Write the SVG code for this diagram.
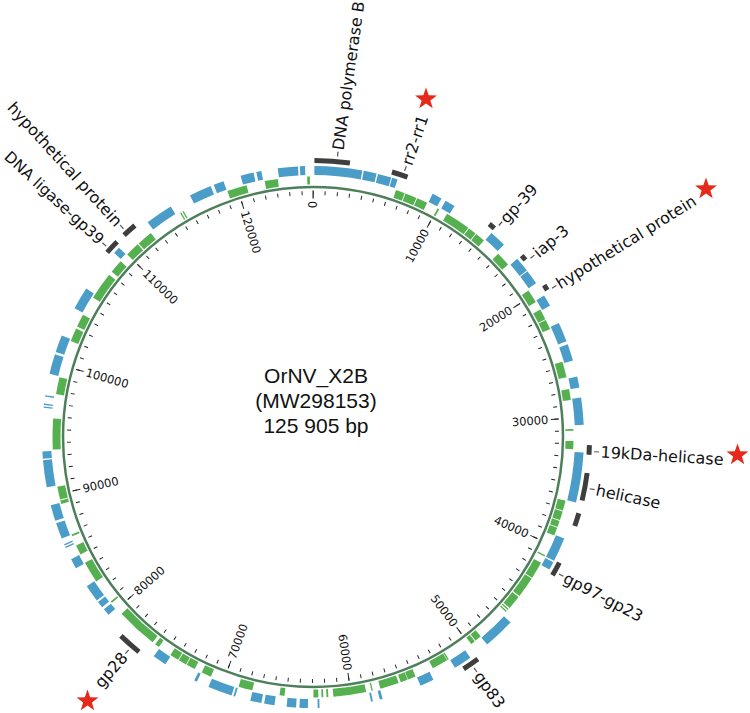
<svg xmlns="http://www.w3.org/2000/svg" width="750" height="713" viewBox="0 0 750 713">
<defs>
<style>
.trk circle{fill:none}
.g{stroke:#55b04f;stroke-width:8}
.b{stroke:#4a9dc9;stroke-width:9}
.m{fill:none;stroke:#3e3e3e;stroke-width:5}
.lbl{font-family:"DejaVu Sans",Verdana,sans-serif;font-size:16px;fill:#111;dominant-baseline:central}
.tl{font-family:"DejaVu Sans",Verdana,sans-serif;font-size:11.5px;fill:#111;dominant-baseline:central}
.e{text-anchor:end}
.ctr{font-family:"Liberation Sans",Arial,sans-serif;font-size:21px;fill:#111;text-anchor:middle}
</style>
<path id="star" d="M0,-11.5 L2.7,-3.72 L10.94,-3.55 L4.38,1.42 L6.76,9.3 L0,4.6 L-6.76,9.3 L-4.38,1.42 L-10.94,-3.55 L-2.7,-3.72Z" fill="#e5291b"/>
</defs>
<rect width="750" height="713" fill="#fff"/>

<g id="backbone">
<circle cx="313" cy="437" r="250" fill="none" stroke="#4e7f5b" stroke-width="2.5"/>
</g>

<g id="ticks" transform="translate(313,437) rotate(-90)" fill="none" stroke="#222">
<circle r="244" pathLength="125905" stroke-width="4" stroke-dasharray="80 920" stroke-dashoffset="40"/>
<circle r="242.5" pathLength="125905" stroke-width="8" stroke-dasharray="80 9920" stroke-dashoffset="40"/>
<line x1="238.5" y1="0" x2="246.5" y2="0" stroke-width="1"/>
</g>

<g id="tick-labels" class="tl" transform="translate(313,437)">
<text class="e" transform="rotate(0) translate(0,-236) rotate(-90)">0</text>
<text class="e" transform="rotate(28.592) translate(0,-236) rotate(-90)">10000</text>
<text class="e" transform="rotate(57.183) translate(0,-236) rotate(-90)">20000</text>
<text class="e" transform="rotate(85.775) translate(0,-236) rotate(-90)">30000</text>
<text class="e" transform="rotate(114.367) translate(0,-236) rotate(-90)">40000</text>
<text class="e" transform="rotate(142.958) translate(0,-236) rotate(-90)">50000</text>
<text class="e" transform="rotate(171.55) translate(0,-236) rotate(-90)">60000</text>
<text transform="rotate(200.142) translate(0,-236) rotate(90)">70000</text>
<text transform="rotate(228.733) translate(0,-236) rotate(90)">80000</text>
<text transform="rotate(257.325) translate(0,-236) rotate(90)">90000</text>
<text transform="rotate(285.917) translate(0,-236) rotate(90)">100000</text>
<text transform="rotate(314.508) translate(0,-236) rotate(90)">110000</text>
<text transform="rotate(343.1) translate(0,-236) rotate(90)">120000</text>
</g>

<g id="genes-green" class="trk" transform="translate(313,437) rotate(-90)">
<circle class="g" r="256.5" pathLength="360" stroke-dasharray="2 720" stroke-dashoffset="-18.6"/>
<circle class="g" r="256.5" pathLength="360" stroke-dasharray="2.6 720" stroke-dashoffset="-20.8"/>
<circle class="g" r="256.5" pathLength="360" stroke-dasharray="2.4 720" stroke-dashoffset="-23.6"/>
<circle class="g" r="256.5" pathLength="360" stroke-dasharray="0.4 720" stroke-dashoffset="-28.6"/>
<circle class="g" r="256.5" pathLength="360" stroke-dasharray="5.6 720" stroke-dashoffset="-31"/>
<circle class="g" r="256.5" pathLength="360" stroke-dasharray="1.8 720" stroke-dashoffset="-36.8"/>
<circle class="g" r="256.5" pathLength="360" stroke-dasharray="2.2 720" stroke-dashoffset="-38.8"/>
<circle class="g" r="256.5" pathLength="360" stroke-dasharray="3.2 720" stroke-dashoffset="-45.3"/>
<circle class="g" r="256.5" pathLength="360" stroke-dasharray="3 720" stroke-dashoffset="-55.8"/>
<circle class="g" r="256.5" pathLength="360" stroke-dasharray="2.4 720" stroke-dashoffset="-60.7"/>
<circle class="g" r="256.5" pathLength="360" stroke-dasharray="2.2 720" stroke-dashoffset="-63.3"/>
<circle class="g" r="256.5" pathLength="360" stroke-dasharray="3.5 720" stroke-dashoffset="-73.2"/>
<circle class="g" r="256.5" pathLength="360" stroke-dasharray="2.4 720" stroke-dashoffset="-79.4"/>
<circle class="g" r="256.5" pathLength="360" stroke-dasharray="0.4 720" stroke-dashoffset="-88.2"/>
<circle class="g" r="256.5" pathLength="360" stroke-dasharray="1.8 720" stroke-dashoffset="-90.9"/>
<circle class="g" r="256.5" pathLength="360" stroke-dasharray="2.2 720" stroke-dashoffset="-104.2"/>
<circle class="g" r="256.5" pathLength="360" stroke-dasharray="2 720" stroke-dashoffset="-106.6"/>
<circle class="g" r="256.5" pathLength="360" stroke-dasharray="1.4 720" stroke-dashoffset="-108.8"/>
<circle class="g" r="256.5" pathLength="360" stroke-dasharray="1.8 720" stroke-dashoffset="-110.4"/>
<circle class="g" r="256.5" pathLength="360" stroke-dasharray="0.3 720" stroke-dashoffset="-117"/>
<circle class="g" r="256.5" pathLength="360" stroke-dasharray="3.8 720" stroke-dashoffset="-118.9"/>
<circle class="g" r="256.5" pathLength="360" stroke-dasharray="4.7 720" stroke-dashoffset="-122.9"/>
<circle class="g" r="256.5" pathLength="360" stroke-dasharray="3.1 720" stroke-dashoffset="-127.9"/>
<circle class="g" r="256.5" pathLength="360" stroke-dasharray="0.3 720" stroke-dashoffset="-131.3"/>
<circle class="g" r="256.5" pathLength="360" stroke-dasharray="0.3 720" stroke-dashoffset="-131.9"/>
<circle class="g" r="256.5" pathLength="360" stroke-dasharray="1.5 720" stroke-dashoffset="-139.9"/>
<circle class="g" r="256.5" pathLength="360" stroke-dasharray="1 720" stroke-dashoffset="-141.6"/>
<circle class="g" r="256.5" pathLength="360" stroke-dasharray="0.3 720" stroke-dashoffset="-148.6"/>
<circle class="g" r="256.5" pathLength="360" stroke-dasharray="3.6 720" stroke-dashoffset="-149"/>
<circle class="g" r="256.5" pathLength="360" stroke-dasharray="1.8 720" stroke-dashoffset="-156.8"/>
<circle class="g" r="256.5" pathLength="360" stroke-dasharray="1.6 720" stroke-dashoffset="-158.7"/>
<circle class="g" r="256.5" pathLength="360" stroke-dasharray="4.2 720" stroke-dashoffset="-160.8"/>
<circle class="g" r="256.5" pathLength="360" stroke-dasharray="0.3 720" stroke-dashoffset="-166.7"/>
<circle class="g" r="256.5" pathLength="360" stroke-dasharray="7.3 720" stroke-dashoffset="-168.2"/>
<circle class="g" r="256.5" pathLength="360" stroke-dasharray="0.4 720" stroke-dashoffset="-176.6"/>
<circle class="g" r="256.5" pathLength="360" stroke-dasharray="0.4 720" stroke-dashoffset="-177.7"/>
<circle class="g" r="256.5" pathLength="360" stroke-dasharray="1.1 720" stroke-dashoffset="-178.8"/>
<circle class="g" r="256.5" pathLength="360" stroke-dasharray="1.1 720" stroke-dashoffset="-186.3"/>
<circle class="g" r="256.5" pathLength="360" stroke-dasharray="3.1 720" stroke-dashoffset="-193.5"/>
<circle class="g" r="256.5" pathLength="360" stroke-dasharray="2.2 720" stroke-dashoffset="-203.1"/>
<circle class="g" r="256.5" pathLength="360" stroke-dasharray="2 720" stroke-dashoffset="-207"/>
<circle class="g" r="256.5" pathLength="360" stroke-dasharray="1.8 720" stroke-dashoffset="-209.2"/>
<circle class="g" r="256.5" pathLength="360" stroke-dasharray="2 720" stroke-dashoffset="-211.2"/>
<circle class="g" r="256.5" pathLength="360" stroke-dasharray="1 720" stroke-dashoffset="-216.3"/>
<circle class="g" r="256.5" pathLength="360" stroke-dasharray="9.3 720" stroke-dashoffset="-218"/>
<circle class="g" r="256.5" pathLength="360" stroke-dasharray="0.4 720" stroke-dashoffset="-230.5"/>
<circle class="g" r="256.5" pathLength="360" stroke-dasharray="4.8 720" stroke-dashoffset="-236.3"/>
<circle class="g" r="256.5" pathLength="360" stroke-dasharray="2.2 720" stroke-dashoffset="-243.2"/>
<circle class="g" r="256.5" pathLength="360" stroke-dasharray="0.4 720" stroke-dashoffset="-247.6"/>
<circle class="g" r="256.5" pathLength="360" stroke-dasharray="0.8 720" stroke-dashoffset="-255.1"/>
<circle class="g" r="256.5" pathLength="360" stroke-dasharray="2.9 720" stroke-dashoffset="-256.1"/>
<circle class="g" r="256.5" pathLength="360" stroke-dasharray="6.9 720" stroke-dashoffset="-267.2"/>
<circle class="g" r="256.5" pathLength="360" stroke-dasharray="3.8 720" stroke-dashoffset="-279.5"/>
<circle class="g" r="256.5" pathLength="360" stroke-dasharray="3 720" stroke-dashoffset="-291.6"/>
<circle class="g" r="256.5" pathLength="360" stroke-dasharray="2.9 720" stroke-dashoffset="-295.1"/>
<circle class="g" r="256.5" pathLength="360" stroke-dasharray="6.1 720" stroke-dashoffset="-302.4"/>
<circle class="g" r="256.5" pathLength="360" stroke-dasharray="3 720" stroke-dashoffset="-309.4"/>
<circle class="g" r="256.5" pathLength="360" stroke-dasharray="3.2 720" stroke-dashoffset="-314.5"/>
<circle class="g" r="256.5" pathLength="360" stroke-dasharray="3.5 720" stroke-dashoffset="-318"/>
<circle class="g" r="256.5" pathLength="360" stroke-dasharray="0.3 720" stroke-dashoffset="-329.3"/>
<circle class="g" r="256.5" pathLength="360" stroke-dasharray="0.3 720" stroke-dashoffset="-329.9"/>
<circle class="g" r="256.5" pathLength="360" stroke-dasharray="4.4 720" stroke-dashoffset="-340.8"/>
<circle class="g" r="256.5" pathLength="360" stroke-dasharray="2.9 720" stroke-dashoffset="-349.3"/>
<circle class="g" r="256.5" pathLength="360" stroke-dasharray="0.6 720" stroke-dashoffset="-358.7"/>
</g>

<g id="genes-blue" class="trk" transform="translate(313,437) rotate(-90)">
<circle class="b" r="266.5" pathLength="360" stroke-dasharray="10.2 720" stroke-dashoffset="-0.3"/>
<circle class="b" r="266.5" pathLength="360" stroke-dasharray="2.8 720" stroke-dashoffset="-10.8"/>
<circle class="b" r="266.5" pathLength="360" stroke-dasharray="2.9 720" stroke-dashoffset="-13.9"/>
<circle class="b" r="266.5" pathLength="360" stroke-dasharray="1.2 720" stroke-dashoffset="-17"/>
<circle class="b" r="266.5" pathLength="360" stroke-dasharray="2.1 720" stroke-dashoffset="-26.2"/>
<circle class="b" r="266.5" pathLength="360" stroke-dasharray="2.2 720" stroke-dashoffset="-29.3"/>
<circle class="b" r="266.5" pathLength="360" stroke-dasharray="3.6 720" stroke-dashoffset="-41.2"/>
<circle class="b" r="266.5" pathLength="360" stroke-dasharray="3.2 720" stroke-dashoffset="-48.9"/>
<circle class="b" r="266.5" pathLength="360" stroke-dasharray="3.1 720" stroke-dashoffset="-52.3"/>
<circle class="b" r="266.5" pathLength="360" stroke-dasharray="2.5 720" stroke-dashoffset="-58.5"/>
<circle class="b" r="266.5" pathLength="360" stroke-dasharray="4.2 720" stroke-dashoffset="-65.1"/>
<circle class="b" r="266.5" pathLength="360" stroke-dasharray="3.6 720" stroke-dashoffset="-70"/>
<circle class="b" r="266.5" pathLength="360" stroke-dasharray="2.4 720" stroke-dashoffset="-77.1"/>
<circle class="b" r="266.5" pathLength="360" stroke-dasharray="5.8 720" stroke-dashoffset="-81.6"/>
<circle class="b" r="266.5" pathLength="360" stroke-dasharray="10.7 720" stroke-dashoffset="-93.3"/>
<circle class="b" r="266.5" pathLength="360" stroke-dasharray="5.2 720" stroke-dashoffset="-112"/>
<circle class="b" r="266.5" pathLength="360" stroke-dasharray="1.8 720" stroke-dashoffset="-117.5"/>
<circle class="b" r="266.5" pathLength="360" stroke-dasharray="6.8 720" stroke-dashoffset="-133.2"/>
<circle class="b" r="266.5" pathLength="360" stroke-dasharray="3.9 720" stroke-dashoffset="-144.5"/>
<circle class="b" r="266.5" pathLength="360" stroke-dasharray="3 720" stroke-dashoffset="-153.6"/>
<circle class="b" r="266.5" pathLength="360" stroke-dasharray="0.6 720" stroke-dashoffset="-165.1"/>
<circle class="b" r="266.5" pathLength="360" stroke-dasharray="0.4 720" stroke-dashoffset="-167.2"/>
<circle class="b" r="266.5" pathLength="360" stroke-dasharray="0.4 720" stroke-dashoffset="-178.6"/>
<circle class="b" r="266.5" pathLength="360" stroke-dasharray="1.8 720" stroke-dashoffset="-181.1"/>
<circle class="b" r="266.5" pathLength="360" stroke-dasharray="2 720" stroke-dashoffset="-183.6"/>
<circle class="b" r="266.5" pathLength="360" stroke-dasharray="2.2 720" stroke-dashoffset="-188.2"/>
<circle class="b" r="266.5" pathLength="360" stroke-dasharray="2.4 720" stroke-dashoffset="-191"/>
<circle class="b" r="266.5" pathLength="360" stroke-dasharray="0.4 720" stroke-dashoffset="-196.7"/>
<circle class="b" r="266.5" pathLength="360" stroke-dasharray="5.2 720" stroke-dashoffset="-197.5"/>
<circle class="b" r="266.5" pathLength="360" stroke-dasharray="0.6 720" stroke-dashoffset="-205.4"/>
<circle class="b" r="266.5" pathLength="360" stroke-dasharray="3 720" stroke-dashoffset="-213"/>
<circle class="b" r="266.5" pathLength="360" stroke-dasharray="1.5 720" stroke-dashoffset="-229"/>
<circle class="b" r="266.5" pathLength="360" stroke-dasharray="1.4 720" stroke-dashoffset="-231.1"/>
<circle class="b" r="266.5" pathLength="360" stroke-dasharray="3.7 720" stroke-dashoffset="-232.9"/>
<circle class="b" r="266.5" pathLength="360" stroke-dasharray="2.2 720" stroke-dashoffset="-241"/>
<circle class="b" r="266.5" pathLength="360" stroke-dasharray="0.3 720" stroke-dashoffset="-245.8"/>
<circle class="b" r="266.5" pathLength="360" stroke-dasharray="0.3 720" stroke-dashoffset="-246.4"/>
<circle class="b" r="266.5" pathLength="360" stroke-dasharray="3.4 720" stroke-dashoffset="-248"/>
<circle class="b" r="266.5" pathLength="360" stroke-dasharray="3.4 720" stroke-dashoffset="-252"/>
<circle class="b" r="266.5" pathLength="360" stroke-dasharray="5.8 720" stroke-dashoffset="-259.3"/>
<circle class="b" r="266.5" pathLength="360" stroke-dasharray="1.5 720" stroke-dashoffset="-265.4"/>
<circle class="b" r="266.5" pathLength="360" stroke-dasharray="0.3 720" stroke-dashoffset="-276.2"/>
<circle class="b" r="266.5" pathLength="360" stroke-dasharray="0.3 720" stroke-dashoffset="-276.8"/>
<circle class="b" r="266.5" pathLength="360" stroke-dasharray="0.3 720" stroke-dashoffset="-278.6"/>
<circle class="b" r="266.5" pathLength="360" stroke-dasharray="4.3 720" stroke-dashoffset="-283.5"/>
<circle class="b" r="266.5" pathLength="360" stroke-dasharray="3.7 720" stroke-dashoffset="-288.3"/>
<circle class="b" r="266.5" pathLength="360" stroke-dasharray="4.8 720" stroke-dashoffset="-298.4"/>
<circle class="b" r="266.5" pathLength="360" stroke-dasharray="1.5 720" stroke-dashoffset="-312.8"/>
<circle class="b" r="266.5" pathLength="360" stroke-dasharray="5.9 720" stroke-dashoffset="-322.4"/>
<circle class="b" r="266.5" pathLength="360" stroke-dasharray="4.8 720" stroke-dashoffset="-333"/>
<circle class="b" r="266.5" pathLength="360" stroke-dasharray="2.2 720" stroke-dashoffset="-338.5"/>
<circle class="b" r="266.5" pathLength="360" stroke-dasharray="2.8 720" stroke-dashoffset="-344.5"/>
<circle class="b" r="266.5" pathLength="360" stroke-dasharray="1.1 720" stroke-dashoffset="-347.9"/>
<circle class="b" r="266.5" pathLength="360" stroke-dasharray="4.3 720" stroke-dashoffset="-352.5"/>
<circle class="b" r="266.5" pathLength="360" stroke-dasharray="1.1 720" stroke-dashoffset="-357.2"/>
</g>

<g id="leaders" transform="translate(313,437)" stroke="#555" stroke-width="1.2">
<line transform="rotate(5)" x1="0" y1="-281.5" x2="0" y2="-286.5"/>
<line transform="rotate(19)" x1="0" y1="-281.5" x2="0" y2="-286.5"/>
<line transform="rotate(41.3)" x1="0" y1="-281.5" x2="0" y2="-286.5"/>
<line transform="rotate(50.6)" x1="0" y1="-281.5" x2="0" y2="-286.5"/>
<line transform="rotate(58.1)" x1="0" y1="-281.5" x2="0" y2="-286.5"/>
<line transform="rotate(93)" x1="0" y1="-281.5" x2="0" y2="-286.5"/>
<line transform="rotate(100.6)" x1="0" y1="-281.5" x2="0" y2="-286.5"/>
<line transform="rotate(119.1)" x1="0" y1="-281.5" x2="0" y2="-286.5"/>
<line transform="rotate(145.1)" x1="0" y1="-281.5" x2="0" y2="-286.5"/>
<line transform="rotate(220.9)" x1="0" y1="-281.5" x2="0" y2="-286.5"/>
<line transform="rotate(312.7)" x1="0" y1="-281.5" x2="0" y2="-286.5"/>
<line transform="rotate(317.7)" x1="0" y1="-281.5" x2="0" y2="-286.5"/>
</g>

<g id="f-dna-polymerase-b">
<circle class="m" transform="translate(313,437) rotate(-90)" r="276.5" pathLength="360" stroke-dasharray="7.4 720" stroke-dashoffset="-0.3"/>
<text class="lbl" transform="translate(313,437) rotate(5) translate(0,-288) rotate(-87)">DNA polymerase B</text>
</g>
<g id="f-rr2-rr1">
<circle class="m" transform="translate(313,437) rotate(-90)" r="276.5" pathLength="360" stroke-dasharray="3.4 720" stroke-dashoffset="-16.6"/>
<text class="lbl" transform="translate(313,437) rotate(19) translate(0,-288) rotate(-90.5)">rr2-rr1</text>
</g>
<g id="f-gp-39">
<circle class="m" transform="translate(313,437) rotate(-90)" r="276.5" pathLength="360" stroke-dasharray="1.4 720" stroke-dashoffset="-39.6"/>
<text class="lbl" transform="translate(313,437) rotate(41.3) translate(0,-288) rotate(-88.3)">gp-39</text>
</g>
<g id="f-iap-3">
<circle class="m" transform="translate(313,437) rotate(-90)" r="276.5" pathLength="360" stroke-dasharray="1.2 720" stroke-dashoffset="-49"/>
<text class="lbl" transform="translate(313,437) rotate(50.6) translate(0,-288) rotate(-90.6)">iap-3</text>
</g>
<g id="f-hypothetical-protein-1">
<circle class="m" transform="translate(313,437) rotate(-90)" r="276.5" pathLength="360" stroke-dasharray="1.2 720" stroke-dashoffset="-56.7"/>
<text class="lbl" transform="translate(313,437) rotate(58.1) translate(0,-288) rotate(-90)">hypothetical protein</text>
</g>
<g id="f-19kda-helicase">
<circle class="m" transform="translate(313,437) rotate(-90)" r="276.5" pathLength="360" stroke-dasharray="2 720" stroke-dashoffset="-91.7"/>
<text class="lbl" transform="translate(313,437) rotate(93) translate(0,-288) rotate(-89.5)">19kDa-helicase</text>
</g>
<g id="f-helicase">
<circle class="m" transform="translate(313,437) rotate(-90)" r="276.5" pathLength="360" stroke-dasharray="5.8 720" stroke-dashoffset="-97.5"/>
<text class="lbl" transform="translate(313,437) rotate(100.6) translate(0,-288) rotate(-88.8)">helicase</text>
</g>
<g id="f-unlabeled">
<circle class="m" transform="translate(313,437) rotate(-90)" r="276.5" pathLength="360" stroke-dasharray="2.8 720" stroke-dashoffset="-106"/>
</g>
<g id="f-gp97-gp23">
<circle class="m" transform="translate(313,437) rotate(-90)" r="276.5" pathLength="360" stroke-dasharray="3 720" stroke-dashoffset="-117"/>
<text class="lbl" transform="translate(313,437) rotate(119.1) translate(0,-288) rotate(-91.6)">gp97-gp23</text>
</g>
<g id="f-gp83">
<circle class="m" transform="translate(313,437) rotate(-90)" r="276.5" pathLength="360" stroke-dasharray="3.6 720" stroke-dashoffset="-143.4"/>
<text class="lbl" transform="translate(313,437) rotate(145.1) translate(0,-288) rotate(-90.6)">gp83</text>
</g>
<g id="f-gp28">
<circle class="m" transform="translate(313,437) rotate(-90)" r="276.5" pathLength="360" stroke-dasharray="5 720" stroke-dashoffset="-219"/>
<text class="lbl e" transform="translate(313,437) rotate(220.9) translate(0,-288) rotate(90)">gp28</text>
</g>
<g id="f-dna-ligase-gp39">
<circle class="m" transform="translate(313,437) rotate(-90)" r="276.5" pathLength="360" stroke-dasharray="3 720" stroke-dashoffset="-311.9"/>
<text class="lbl e" style="font-size:15.4px" transform="translate(313,437) rotate(312.7) translate(0,-288) rotate(90)">DNA ligase-gp39</text>
</g>
<g id="f-hypothetical-protein-2">
<circle class="m" transform="translate(313,437) rotate(-90)" r="276.5" pathLength="360" stroke-dasharray="3 720" stroke-dashoffset="-316.9"/>
<text class="lbl e" transform="translate(313,437) rotate(317.7) translate(0,-288) rotate(90)">hypothetical protein</text>
</g>

<g id="stars">
<use href="#star" x="426" y="99"/>
<use href="#star" x="706" y="189"/>
<use href="#star" x="737.5" y="455"/>
<use href="#star" x="87.5" y="701"/>
</g>

<g id="title" class="ctr">
<text x="316" y="383">OrNV_X2B</text>
<text x="316" y="408">(MW298153)</text>
<text x="316" y="433">125 905 bp</text>
</g>
</svg>
